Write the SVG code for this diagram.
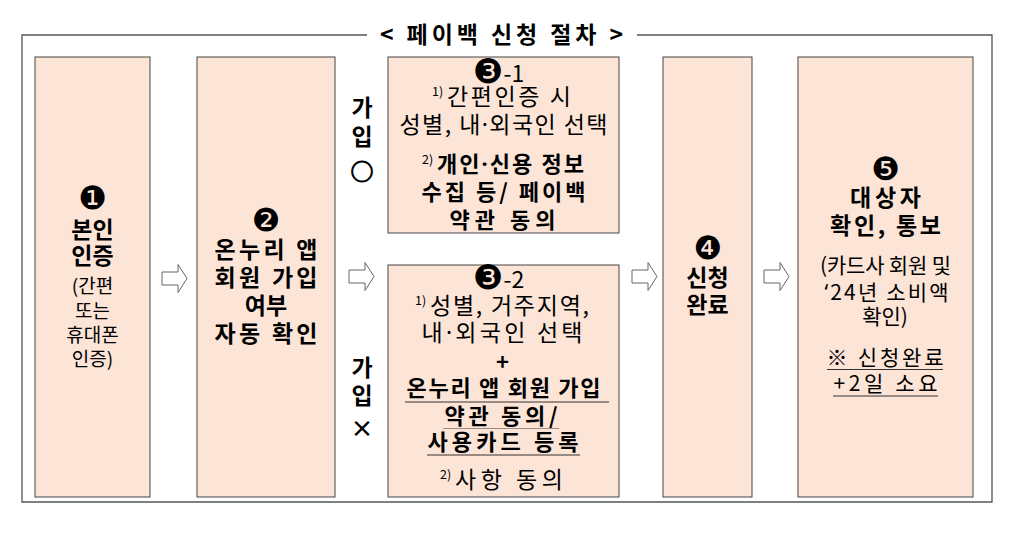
<svg xmlns="http://www.w3.org/2000/svg" width="1025" height="536" viewBox="0 0 1025 536">
<style>
text{font-family:"Noto Sans CJK KR","Noto Sans",sans-serif;fill:#000;text-anchor:middle}
.b{font-weight:700;font-size:23px}
.b2{font-weight:700;font-size:22px}
.r{font-weight:400;font-size:23px}
.s{font-weight:400;font-size:19px}
.t{font-weight:400;font-size:21px}
.sup{font-weight:400;font-size:12.5px;text-anchor:start}
.st{text-anchor:start}
.d{font-family:"DejaVu Sans",sans-serif;font-weight:400;font-size:32px}
.d3{font-family:"DejaVu Sans",sans-serif;font-weight:400;font-size:34px}
.p{font-family:"Noto Sans","DejaVu Sans",sans-serif}
.box{fill:#FCE4D6;stroke:#444;stroke-width:1}
.ul{stroke:#333;stroke-width:1.2}
.arr{fill:#fff;stroke:#666;stroke-width:1}
</style>
<defs>
<path id="arrow" class="arr" d="M0,-6.5 L16,-6.5 L16,-14 L25,0 L16,14 L16,6.5 L0,6.5 Z"/>
</defs>
<rect width="1025" height="536" fill="#fff"/>
<g id="frame">
<path d="M367,35 L22,35 L22,502 L992,502 L992,35 L637,35" fill="none" stroke="#555" stroke-width="1.3"/>
<text id="title" class="b" x="501.5" y="43" font-size="22" textLength="243" lengthAdjust="spacing">&lt; 페이백 신청 절차 &gt;</text>
</g>
<g id="connectors">
<use href="#arrow" x="162" y="278.5"/>
<use href="#arrow" x="349" y="276.5"/>
<use href="#arrow" x="632" y="276.5"/>
<use href="#arrow" x="764" y="276.5"/>
<g id="label-yes">
<text class="b" x="362" y="116" font-size="24">가</text>
<text class="b" x="362" y="145" font-size="24">입</text>
<text class="b" x="362" y="180" font-size="31" stroke="#000" stroke-width="0.9">○</text>
</g>
<g id="label-no">
<text class="b" x="362" y="376" font-size="24">가</text>
<text class="b" x="362" y="404" font-size="24">입</text>
<text class="b" x="362" y="437" font-size="24">×</text>
</g>
</g>
<g id="node1">
<rect class="box" x="35" y="57" width="115" height="440"/>
<text class="d" x="92.5" y="209">❶</text>
<text class="b" x="92.5" y="238">본인</text>
<text class="b" x="92.5" y="264">인증</text>
<text class="s" x="92.5" y="293">(간편</text>
<text class="s" x="92.5" y="318">또는</text>
<text class="s" x="92.5" y="342">휴대폰</text>
<text class="s" x="92.5" y="366">인증)</text>
</g>
<g id="node2">
<rect class="box" x="197" y="57" width="138" height="440"/>
<text class="d" x="266" y="231">❷</text>
<text class="b" x="266" y="258" textLength="103" lengthAdjust="spacing">온누리 앱</text>
<text class="b" x="266" y="286" textLength="103" lengthAdjust="spacing">회원 가입</text>
<text class="b" x="266" y="314">여부</text>
<text class="b" x="266" y="342" textLength="103" lengthAdjust="spacing">자동 확인</text>
</g>
<g id="node3-1">
<rect class="box" x="388" y="57" width="231" height="176"/>
<text class="r st" x="473" y="83"><tspan class="d3">❸</tspan><tspan x="503.5" y="82">-1</tspan></text>
<text class="sup" x="432" y="96">1)</text>
<text class="r st" x="447" y="105" textLength="124" lengthAdjust="spacing">간편인증 시</text>
<text class="r" x="503.5" y="133" textLength="208" lengthAdjust="spacing">성별, 내<tspan class="p">·</tspan>외국인 선택</text>
<text class="sup" x="422" y="164">2)</text>
<text class="b2 st" x="437" y="172" textLength="147" lengthAdjust="spacing">개인<tspan class="p">·</tspan>신용 정보</text>
<text class="b2" x="503.5" y="200" textLength="164" lengthAdjust="spacing">수집 등/ 페이백</text>
<text class="b2" x="502.5" y="228" textLength="106" lengthAdjust="spacing">약관 동의</text>
</g>
<g id="node3-2">
<rect class="box" x="388" y="265" width="231" height="232"/>
<text class="r st" x="473" y="289"><tspan class="d3">❸</tspan><tspan x="503.5" y="288">-2</tspan></text>
<text class="sup" x="415" y="305">1)</text>
<text class="r st" x="430" y="314" textLength="159" lengthAdjust="spacing">성별, 거주지역,</text>
<text class="r" x="502" y="341" textLength="161" lengthAdjust="spacing">내<tspan class="p">·</tspan>외국인 선택</text>
<text class="b2" x="502.5" y="370" font-size="21">+</text>
<text class="b2" x="503.5" y="396" textLength="194" lengthAdjust="spacing">온누리 앱 회원 가입</text>
<line class="ul" x1="405" y1="402" x2="609" y2="402"/>
<text class="b2" x="501" y="424" textLength="113" lengthAdjust="spacing">약관 동의/</text>
<line class="ul" x1="443" y1="428.5" x2="559" y2="428.5" stroke-opacity="0.5"/>
<text class="b2" x="503" y="450" textLength="151" lengthAdjust="spacing">사용카드 등록</text>
<line class="ul" x1="427" y1="455" x2="580" y2="455"/>
<text class="sup" x="440" y="479">2)</text>
<text class="r st" x="455" y="488" textLength="108" lengthAdjust="spacing">사항 동의</text>
</g>
<g id="node4">
<rect class="box" x="663" y="57" width="89" height="440"/>
<text class="d" x="707.5" y="259">❹</text>
<text class="b" x="707.5" y="286">신청</text>
<text class="b" x="707.5" y="313">완료</text>
</g>
<g id="node5">
<rect class="box" x="798" y="57" width="175" height="440"/>
<text class="d" x="885.5" y="180">❺</text>
<text class="b" x="885.5" y="206" textLength="71" lengthAdjust="spacing">대상자</text>
<text class="b" x="885.5" y="234" textLength="111" lengthAdjust="spacing">확인, 통보</text>
<text class="t" x="885.5" y="273" font-size="20" textLength="131" lengthAdjust="spacing">(카드사 회원 및</text>
<text class="t" x="886.5" y="300" textLength="124" lengthAdjust="spacing"><tspan class="p">‘</tspan>24년 소비액</text>
<text class="t" x="885" y="324">확인)</text>
<text class="t" x="885" y="365" textLength="117" lengthAdjust="spacing">※ 신청완료</text>
<line class="ul" x1="827" y1="369.5" x2="943" y2="369.5"/>
<text class="t" x="885.5" y="391" textLength="104" lengthAdjust="spacing">+2일 소요</text>
<line class="ul" x1="833" y1="396" x2="938" y2="396"/>
</g>
</svg>
